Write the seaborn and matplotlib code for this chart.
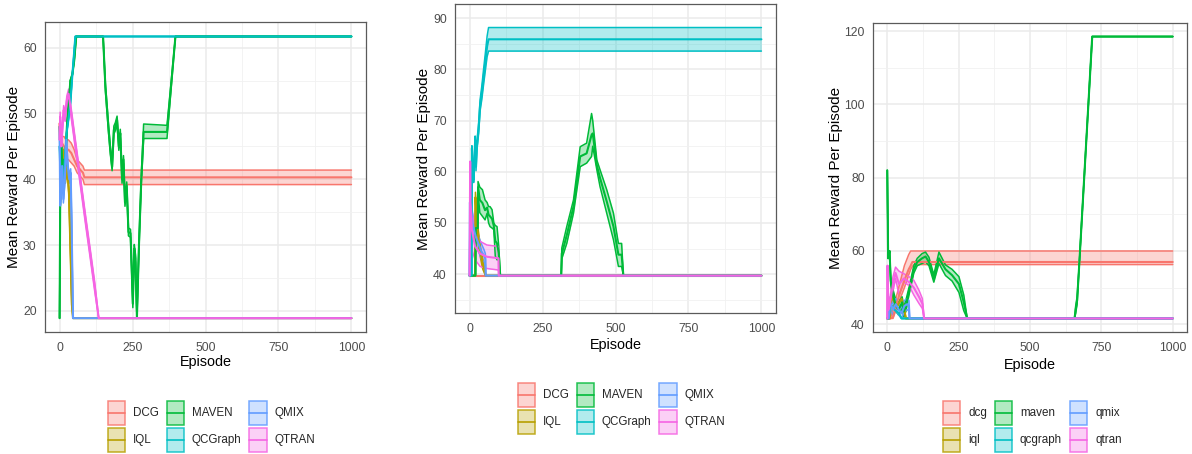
import matplotlib
matplotlib.use("Agg")
import matplotlib.pyplot as plt
import seaborn as sns
from matplotlib.patches import Rectangle
from matplotlib.lines import Line2D
from matplotlib.legend_handler import HandlerBase
from matplotlib.colors import to_rgba
from matplotlib.ticker import MultipleLocator
from matplotlib import font_manager

sns.set_theme(style="white")
_installed = {f.name for f in font_manager.fontManager.ttflist}
HAS_NARROW = "Liberation Sans Narrow" in _installed
plt.rcParams["font.family"] = ["Liberation Sans", "DejaVu Sans"]

# ---------------- data: panel 1 ----------------
p1_dcg_ep = [0, 3, 8, 15, 22, 30, 40, 50, 60, 70, 80, 85, 1000]
p1_dcg_mean = [48.5, 44, 45.5, 45, 44.5, 44.5, 44, 43, 42, 41.5, 41, 40.3, 40.3]
p1_dcg_lo = [48.5, 42.5, 43.5, 43.5, 43, 43, 42.5, 42, 41, 40.5, 40, 39.2, 39.2]
p1_dcg_hi = [48.5, 45.5, 46.5, 46.5, 46, 46, 45.5, 44.5, 43, 42.5, 42, 41.4, 41.4]

p1_iql_ep = [0, 3, 8, 14, 20, 26, 32, 38, 42, 46, 1000]
p1_iql_mean = [48, 44, 41, 44, 40, 42, 38, 28, 21, 18.9, 18.9]
p1_iql_lo = [48, 43.4, 40.4, 43.4, 39.4, 41.4, 37.4, 27.4, 20.5, 18.9, 18.9]
p1_iql_hi = [48, 44.6, 41.6, 44.6, 40.6, 42.6, 38.6, 28.6, 21.5, 18.9, 18.9]

p1_maven_ep = [0, 2, 6, 10, 15, 20, 25, 30, 37, 44, 50, 57, 149, 157, 168, 174, 180, 186, 191,
               197, 203, 208, 214, 219, 224, 230, 236, 243, 251, 256, 260, 265, 272, 280, 288,
               368, 397, 1000]
p1_maven_mean = [18.9, 36, 45, 40, 43, 42, 48, 51, 55, 56, 58, 61.7, 61.7, 54, 47.5, 44.4, 41.9,
                 47.5, 48, 49, 45, 47, 40, 43, 36.5, 39, 32, 31.8, 21.1, 29.5, 28, 18.9, 30, 40,
                 47.2, 47.2, 61.7, 61.7]
p1_maven_lo = [18.9, 36, 45, 40, 43, 42, 48, 51, 55, 56, 58, 61.7, 61.7, 53.4, 46.9, 43.8, 41.3,
               46.9, 47.4, 48.4, 44.4, 46.4, 39.4, 42.4, 35.9, 38.4, 31.4, 31.2, 20.5, 28.9, 27.4,
               18.9, 29.4, 39.4, 46.2, 46.2, 61.7, 61.7]
p1_maven_hi = [18.9, 36, 45, 40, 43, 42, 48, 51, 55, 56, 58, 61.7, 61.7, 54.6, 48.1, 45.0, 42.5,
               48.1, 48.6, 49.6, 45.6, 47.6, 40.6, 43.6, 37.1, 39.6, 32.6, 32.4, 21.7, 30.1, 28.6,
               18.9, 30.6, 40.6, 48.4, 48.2, 61.7, 61.7]

p1_qcg_ep = [0, 4, 8, 12, 18, 24, 30, 37, 44, 54, 1000]
p1_qcg_mean = [45, 39, 42, 38, 43, 47, 49, 51.6, 56, 61.7, 61.7]

p1_qmix_ep = [0, 2, 5, 9, 13, 18, 23, 28, 33, 38, 41, 46, 1000]
p1_qmix_mean = [48, 36, 38, 42, 37, 40, 46, 42, 40, 41, 34, 18.9, 18.9]
p1_qmix_lo = [48, 35.5, 37.4, 41.4, 36.4, 39.4, 45.4, 41.4, 39.4, 40.4, 33.4, 18.9, 18.9]
p1_qmix_hi = [48, 36.5, 38.6, 42.6, 37.6, 40.6, 46.6, 42.6, 40.6, 41.6, 34.6, 18.9, 18.9]

p1_qtran_ep = [0, 2, 6, 10, 14, 19, 25, 31, 40, 55, 71, 90, 105, 120, 134, 1000]
p1_qtran_mean = [46, 49.5, 45, 48, 50.5, 49.5, 52, 53, 50, 45, 39.8, 33.5, 28.7, 23.8, 18.9, 18.9]
p1_qtran_lo = [46, 48.8, 44.3, 47.3, 49.8, 48.8, 51.3, 52.3, 49.3, 44.3, 39.1, 32.8, 28.0, 23.1, 18.9, 18.9]
p1_qtran_hi = [46, 50.2, 45.7, 48.7, 51.2, 50.2, 52.7, 53.7, 50.7, 45.7, 40.5, 34.2, 29.4, 24.5, 18.9, 18.9]

# ---------------- data: panel 2 ----------------
p2_dcg_ep = [0, 1000]
p2_dcg_mean = [39.7, 39.7]

p2_iql_ep = [0, 19, 20, 25, 30, 38, 45, 50, 55, 1000]
p2_iql_mean = [39.7, 39.7, 55, 50, 47, 44, 42, 41, 39.7, 39.7]
p2_iql_lo = [39.7, 39.7, 53, 48.5, 45.5, 43, 41, 40.3, 39.7, 39.7]
p2_iql_hi = [39.7, 39.7, 56, 51.5, 48.5, 45, 43, 41.7, 39.7, 39.7]

p2_maven_ep = [0, 20, 21, 28, 29, 35, 44, 53, 60, 65, 70, 77, 83, 88, 94, 100, 105, 314, 316,
               333, 356, 379, 401, 418, 422, 436, 447, 470, 493, 510, 521, 527, 1000]
p2_maven_mean = [39.7, 39.7, 49, 49, 57, 54.5, 53.9, 52.5, 53, 51.6, 51.3, 50.8, 49.4, 46.5, 46,
                 44.1, 39.7, 39.7, 44, 47.6, 53.2, 63, 63.6, 67.2, 67.5, 61.3, 58.8, 54.2, 49.3,
                 43.8, 43.8, 39.7, 39.7]
p2_maven_lo = [39.7, 39.7, 48, 48, 56, 52, 51.3, 50.6, 51.9, 50, 49.3, 49, 48.7, 43.5, 42.8,
               42.8, 39.7, 39.7, 43, 46, 51.9, 61, 61.7, 63, 65, 60.4, 57.1, 51.9, 46.7, 41.5,
               41.5, 39.7, 39.7]
p2_maven_hi = [39.7, 39.7, 50, 50, 58.1, 57, 56.5, 54.5, 54, 53.2, 53.2, 52.6, 50, 49.5, 49.3,
               45.4, 39.7, 39.7, 45.1, 49.3, 54.5, 64.9, 65.6, 71.4, 70, 62.3, 60.4, 56.5, 51.9,
               46, 46, 39.7, 39.7]

p2_qcg_ep = [0, 7, 8, 11, 14, 17, 19, 22, 25, 31, 36, 42, 48, 54, 60, 65, 1000]
p2_qcg_mean = [39.7, 39.7, 64.6, 60, 58.4, 63, 66.2, 61, 65, 68.5, 73, 75.5, 78.6, 81.5, 84.5, 85.9, 85.9]
p2_qcg_lo = [39.7, 39.7, 64.1, 59.5, 57.9, 62.3, 65.4, 60.2, 64.1, 67.5, 71.9, 74.2, 77.1, 79.8, 82.5, 83.6, 83.6]
p2_qcg_hi = [39.7, 39.7, 65.1, 60.5, 58.9, 63.7, 67.0, 61.8, 65.9, 69.5, 74.1, 76.8, 80.1, 83.2, 86.5, 88.2, 88.2]

p2_qmix_ep = [0, 1, 4, 10, 20, 30, 40, 50, 54, 55, 1000]
p2_qmix_mean = [39.7, 54, 53, 50, 47.5, 46, 44.5, 43.5, 43, 39.7, 39.7]
p2_qmix_lo = [39.7, 52, 51, 48, 46, 44.5, 43, 42.3, 42, 39.7, 39.7]
p2_qmix_hi = [39.7, 55, 55, 52, 49, 47.5, 46, 44.7, 44, 39.7, 39.7]

p2_qtran_ep = [0, 2, 3, 8, 19, 36, 59, 99, 100, 1000]
p2_qtran_mean = [39.7, 62, 54, 48.6, 45.4, 44, 43.4, 43.1, 39.7, 39.7]
p2_qtran_lo = [39.7, 62, 50, 44.7, 42.8, 41.5, 41.1, 40.8, 39.7, 39.7]
p2_qtran_hi = [39.7, 62, 58, 52.6, 48, 46.4, 45.7, 45.4, 39.7, 39.7]

# ---------------- data: panel 3 ----------------
p3_dcg_ep = [0, 11, 20, 40, 60, 75, 82, 88, 93, 1000]
p3_dcg_mean = [41.6, 41.6, 42, 47.5, 52, 55, 56, 57, 57, 57]
p3_dcg_lo = [41.6, 41.6, 41.6, 46, 50, 53.5, 55, 55.8, 56.3, 56.3]
p3_dcg_hi = [41.6, 41.6, 44, 50, 56, 59, 60, 60, 60, 60]

p3_iql_ep = [0, 8, 15, 25, 35, 50, 60, 65, 1000]
p3_iql_mean = [41.6, 41.6, 48, 46, 45, 47, 44, 41.6, 41.6]

p3_maven_ep = [0, 3, 8, 12, 20, 30, 40, 52, 58, 65, 76, 93, 105, 122, 134, 146, 163, 181, 204,
               227, 251, 268, 280, 656, 660, 665, 672, 718, 1000]
p3_maven_mean = [82, 58, 60, 52, 48, 45, 44, 46, 43.5, 45, 49, 55, 57, 58, 58.5, 57, 52.5, 58, 55,
                 53.4, 51, 46, 41.6, 41.6, 44, 46.5, 55.6, 118.5, 118.5]
p3_maven_lo = [82, 58, 60, 51, 46.5, 43.5, 42.5, 44.5, 42, 43.5, 48, 54, 56, 56.6, 57, 56, 51.5,
               56.6, 53.3, 51.8, 48.7, 43.7, 41.6, 41.6, 43, 45.5, 55.6, 118.5, 118.5]
p3_maven_hi = [82, 58, 60, 53, 49.5, 46.5, 46, 47.5, 45, 46.5, 50, 56, 58, 59.3, 59.7, 58.3, 53.5,
               59.7, 56.2, 55, 53, 48, 41.6, 41.6, 45, 47.5, 55.6, 118.5, 118.5]

p3_qcg_ep = [0, 5, 12, 25, 40, 50, 1000]
p3_qcg_mean = [41.6, 41.6, 45.5, 44, 43, 41.6, 41.6]

p3_qmix_ep = [0, 5, 10, 20, 30, 40, 50, 60, 70, 76, 78, 1000]
p3_qmix_mean = [41.6, 41.6, 46, 44, 45.5, 44, 43, 45, 45.5, 45, 41.6, 41.6]
p3_qmix_lo = [41.6, 41.6, 44.5, 42.5, 44, 42.5, 41.6, 43.5, 44, 43.5, 41.6, 41.6]
p3_qmix_hi = [41.6, 41.6, 47.5, 45.5, 47, 45.5, 44.5, 46.5, 47, 46.5, 41.6, 41.6]

p3_qtran_ep = [0, 1, 4, 10, 20, 29, 41, 58, 76, 93, 111, 123, 129, 1000]
p3_qtran_mean = [41.6, 56, 44, 46, 51, 54, 51, 52.5, 51.5, 50, 47.5, 45.6, 41.6, 41.6]
p3_qtran_lo = [41.6, 56, 43, 44.5, 49, 52.5, 48, 51.5, 50.6, 48, 45.7, 44.3, 41.6, 41.6]
p3_qtran_hi = [41.6, 56, 45, 47.5, 53, 55.6, 54.5, 53.8, 53, 52, 49.3, 47, 41.6, 41.6]

labels_upper = ["DCG", "IQL", "MAVEN", "QCGraph", "QMIX", "QTRAN"]
labels_lower = ["dcg", "iql", "maven", "qcgraph", "qmix", "qtran"]
palette = ["#F8766D", "#B79F00", "#00BA38", "#00BFC4", "#619CFF", "#F564E3"]

panel1 = [
    (p1_dcg_ep, p1_dcg_mean, p1_dcg_lo, p1_dcg_hi),
    (p1_iql_ep, p1_iql_mean, p1_iql_lo, p1_iql_hi),
    (p1_maven_ep, p1_maven_mean, p1_maven_lo, p1_maven_hi),
    (p1_qcg_ep, p1_qcg_mean, p1_qcg_mean, p1_qcg_mean),
    (p1_qmix_ep, p1_qmix_mean, p1_qmix_lo, p1_qmix_hi),
    (p1_qtran_ep, p1_qtran_mean, p1_qtran_lo, p1_qtran_hi),
]
panel2 = [
    (p2_dcg_ep, p2_dcg_mean, p2_dcg_mean, p2_dcg_mean),
    (p2_iql_ep, p2_iql_mean, p2_iql_lo, p2_iql_hi),
    (p2_maven_ep, p2_maven_mean, p2_maven_lo, p2_maven_hi),
    (p2_qcg_ep, p2_qcg_mean, p2_qcg_lo, p2_qcg_hi),
    (p2_qmix_ep, p2_qmix_mean, p2_qmix_lo, p2_qmix_hi),
    (p2_qtran_ep, p2_qtran_mean, p2_qtran_lo, p2_qtran_hi),
]
panel3 = [
    (p3_dcg_ep, p3_dcg_mean, p3_dcg_lo, p3_dcg_hi),
    (p3_iql_ep, p3_iql_mean, p3_iql_mean, p3_iql_mean),
    (p3_maven_ep, p3_maven_mean, p3_maven_lo, p3_maven_hi),
    (p3_qcg_ep, p3_qcg_mean, p3_qcg_mean, p3_qcg_mean),
    (p3_qmix_ep, p3_qmix_mean, p3_qmix_lo, p3_qmix_hi),
    (p3_qtran_ep, p3_qtran_mean, p3_qtran_lo, p3_qtran_hi),
]

W, H = 1192, 454
fig = plt.figure(figsize=(W / 100, H / 100), dpi=100)

if HAS_NARROW:
    HFAM = ["Liberation Sans Narrow", "DejaVu Sans"]
    TICK_FS, XLAB_FS, LEG_FS = 9.6, 11.3, 9.3
else:
    HFAM = ["Liberation Sans", "DejaVu Sans"]
    TICK_FS, XLAB_FS, LEG_FS = 8.8, 10.4, 8.4
REG = ["Liberation Sans", "DejaVu Sans"]


def axes_px(x0, y0, x1, y1):
    return fig.add_axes([x0 / W, 1 - y1 / H, (x1 - x0) / W, (y1 - y0) / H])


def style(ax, ylim, ymaj, xlab_y, ylab_x, box):
    x0, y0, x1, y1 = box
    ax.set_xlim(-50, 1050)
    ax.set_ylim(*ylim)
    ax.set_facecolor("white")
    ax.xaxis.set_major_locator(MultipleLocator(250))
    ax.xaxis.set_minor_locator(MultipleLocator(125))
    ax.yaxis.set_major_locator(MultipleLocator(ymaj))
    ax.yaxis.set_minor_locator(MultipleLocator(ymaj / 2))
    ax.grid(True, which="major", color="#EBEBEB", lw=1.1)
    ax.grid(True, which="minor", color="#F1F1F1", lw=0.6)
    ax.set_axisbelow(True)
    for s in ax.spines.values():
        s.set_color("#5a5a5a")
        s.set_linewidth(0.9)
    ax.tick_params(axis="both", which="major", length=3, width=0.8, color="#5a5a5a",
                   labelcolor="#4D4D4D", labelsize=TICK_FS)
    ax.tick_params(axis="x", which="major", pad=4)
    ax.tick_params(axis="y", which="major", pad=3)
    ax.tick_params(which="minor", length=0)
    for lab in ax.get_xticklabels() + ax.get_yticklabels():
        lab.set_family(HFAM)
    ax.set_xlabel("Episode", fontsize=XLAB_FS, family=HFAM, color="black")
    ax.set_ylabel("Mean Reward Per Episode", fontsize=11.0, family=REG, color="black")
    ax.xaxis.label.set_va("center")
    ax.yaxis.label.set_va("center")
    ax.xaxis.set_label_coords(0.5, (y1 - xlab_y) / (y1 - y0))
    ax.yaxis.set_label_coords((ylab_x - x0) / (x1 - x0), 0.5)


def draw(ax, series):
    for (ep, mean, lo, hi), col in zip(series, palette):
        ax.fill_between(ep, lo, hi, color=col, alpha=0.3, lw=0)
        sns.lineplot(x=ep, y=lo, ax=ax, color=col, lw=1.1, estimator=None, sort=False)
        sns.lineplot(x=ep, y=hi, ax=ax, color=col, lw=1.1, estimator=None, sort=False)
    for (ep, mean, lo, hi), col in zip(series, palette):
        sns.lineplot(x=ep, y=mean, ax=ax, color=col, lw=1.5, estimator=None, sort=False)


class KeyHandler(HandlerBase):
    def create_artists(self, legend, orig_handle, xdescent, ydescent, width, height,
                       fontsize, trans):
        c = orig_handle.get_color()
        rect = Rectangle((-xdescent + 0.5, -ydescent + 0.5), width - 1, height - 1,
                         facecolor=to_rgba(c, 0.3), edgecolor=to_rgba(c, 0.85), lw=1.1,
                         transform=trans)
        yc = -ydescent + height / 2
        line = Line2D([-xdescent + 0.5, -xdescent + width - 0.5], [yc, yc], color=c, lw=1.2,
                      transform=trans)
        return [rect, line]


def legend(ax, labels, x, y):
    handles = [Line2D([], [], color=c) for c in palette]
    fs_px = LEG_FS * 100 / 72
    hh = (26 / 1.389 - 0.245 * LEG_FS) / (0.65 * LEG_FS)
    ax.legend(handles, labels, handler_map={Line2D: KeyHandler()},
              ncol=3, loc="upper left", bbox_to_anchor=(x / W, 1 - y / H),
              bbox_transform=fig.transFigure, frameon=False, borderpad=0, borderaxespad=0,
              handlelength=19 / fs_px, handleheight=hh, labelspacing=1.0 / fs_px,
              handletextpad=7 / fs_px, columnspacing=7 / fs_px,
              prop={"family": HFAM, "size": LEG_FS})


boxes = [(45, 22, 366, 332), (455, 4, 776, 313), (873, 23, 1187, 332)]
ylims = [(16.8, 63.9), (32.4, 92.8), (37.9, 122.2)]
ymajs = [10, 10, 20]
xlab_ys = [362, 345, 365]
ylab_xs = [14, 424, 836]
legend_pos = [(107, 400), (517, 382), (942, 400)]
all_panels = [panel1, panel2, panel3]
all_labels = [labels_upper, labels_upper, labels_lower]

for box, yl, ym, xly, ylx, lp, pdata, labs in zip(boxes, ylims, ymajs, xlab_ys, ylab_xs,
                                                   legend_pos, all_panels, all_labels):
    ax = axes_px(*box)
    draw(ax, pdata)
    style(ax, yl, ym, xly, ylx, box)
    legend(ax, labs, *lp)

fig.savefig("out.png", dpi=100, facecolor="white")
